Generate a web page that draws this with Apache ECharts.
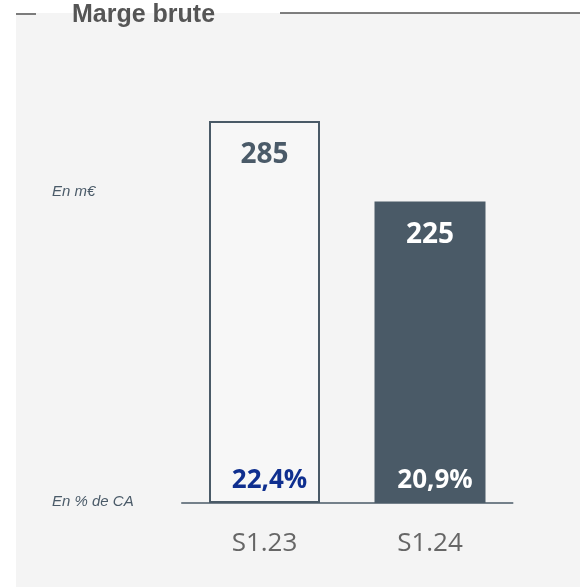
<!DOCTYPE html>
<html><head><meta charset="utf-8">
<script src="https://cdn.jsdelivr.net/npm/echarts@6/dist/echarts.min.js"></script>
<style>html,body{margin:0;padding:0;background:#fff}#c{width:580px;height:587px}</style>
</head><body><div id="c"></div>
<script>
var categories = ['S1.23', 'S1.24'];
var values = [285, 225];
var pctLabels = ['22,4%', '20,9%'];
var pctAnchor = [17, 17];

var chart = echarts.init(document.getElementById('c'), null, {renderer: 'canvas'});
var dark = '#4a5a67';
chart.setOption({
  animation: false,
  backgroundColor: '#ffffff',
  graphic: [
    {type: 'rect', z: -10, shape: {x: 16, y: 13, width: 564, height: 574}, style: {fill: '#f4f4f4'}},
    {type: 'line', shape: {x1: 16, y1: 14, x2: 36, y2: 14}, style: {stroke: '#555', lineWidth: 1.5}},
    {type: 'line', shape: {x1: 280, y1: 13, x2: 580, y2: 13}, style: {stroke: '#555', lineWidth: 1.5}},
    {type: 'text', left: 72, top: 3, style: {text: 'Marge brute', font: 'bold 25px "Liberation Sans", Arial, sans-serif', fill: '#555555'}},
    {type: 'text', left: 52, top: 184, style: {text: 'En m€', font: 'italic 15px "Liberation Sans", Arial, sans-serif', fill: '#4a5a68'}},
    {type: 'text', left: 52, top: 494, style: {text: 'En % de CA', font: 'italic 15px "Liberation Sans", Arial, sans-serif', fill: '#4a5a68'}}
  ],
  grid: {left: 181.75, right: 67.25, top: 101, bottom: 84},
  xAxis: {
    type: 'category', data: categories,
    axisLine: {show: true, lineStyle: {color: '#4a5a67', width: 1.5}},
    axisTick: {show: false},
    axisLabel: {color: '#666666', fontSize: 26, fontFamily: '"Open Sans", sans-serif', margin: 28}
  },
  yAxis: {type: 'value', min: 0, max: 300, show: false, splitLine: {show: false}},
  series: [
    {
      type: 'bar', barWidth: 111,
      data: values.map(function (v, i) {
        return i === 0
          ? {value: v, itemStyle: {color: '#f7f7f7', borderColor: dark, borderWidth: 2},
             label: {color: '#4a5a68'}}
          : {value: v, itemStyle: {color: dark}, label: {color: '#ffffff'}};
      }),
      label: {show: true, position: 'insideTop', distance: 20, fontSize: 28, fontWeight: 'bold',
              fontFamily: '"Open Sans", sans-serif'}
    },
    {
      type: 'scatter', symbolSize: 0, z: 5,
      itemStyle: {opacity: 1},
      data: pctAnchor.map(function (v, i) {
        return {value: v, label: {color: i === 0 ? '#0f2f8f' : '#ffffff'}};
      }),
      label: {show: true, position: 'inside', offset: [5, 0], fontSize: 26, fontWeight: 'bold',
              fontFamily: '"Open Sans", sans-serif',
              formatter: function (p) { return pctLabels[p.dataIndex]; }}
    }
  ]
});
</script></body></html>
